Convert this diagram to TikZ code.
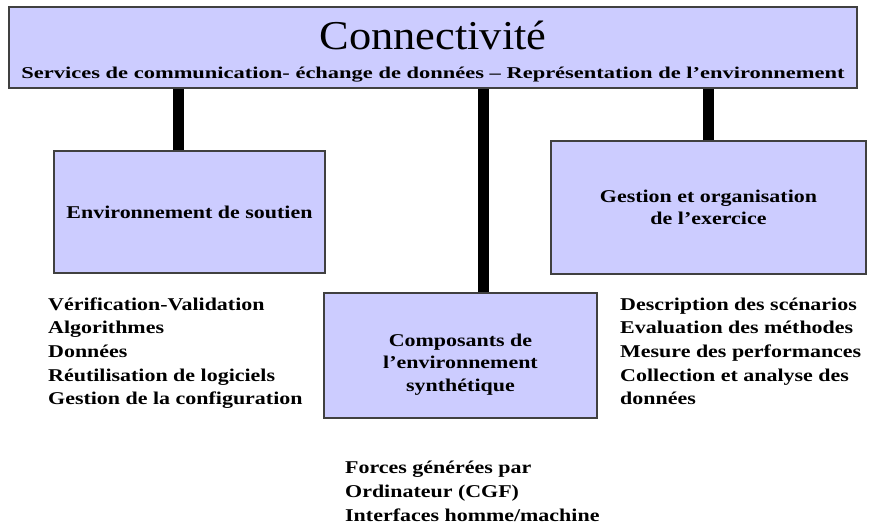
\documentclass[tikz,border=0pt]{standalone}
\usepackage{graphicx}
\usepackage{fontspec}
\setmainfont{Liberation Serif}
\newfontfamily\bfx{Liberation Serif Bold}[FakeStretch=1.22]
\definecolor{boxfill}{HTML}{CCCCFF}
\definecolor{boxline}{HTML}{404040}
\begin{document}
\begin{tikzpicture}[x=1pt,y=1pt,
  box/.style={draw=boxline, line width=1.2pt, fill=boxfill, inner sep=0pt, align=center,
              font=\bfx\fontsize{18}{22.5}\selectfont},
  boxtext/.style={inner sep=0pt, align=center, font=\bfx\fontsize{18}{22.5}\selectfont},
  bar/.style={line width=11pt, black},
  listtext/.style={inner sep=0pt, align=left, anchor=base west,
              font=\bfx\fontsize{18}{23.7}\selectfont}]
\useasboundingbox (0,0) rectangle (870,-527);
% top box
\node[box, minimum width=848pt, minimum height=81pt] (top) at (433,-47.5) {};
\node[inner sep=0pt, anchor=base] (title) at (433,-50)
  {\resizebox{227pt}{\height}{\fontsize{41}{41}\selectfont Connectivité}};
\node[inner sep=0pt, anchor=base] (sub) at (433,-78)
  {\resizebox{823pt}{\height}{\bfx\fontsize{16.5}{16.5}\selectfont Services de communication- échange de données – Représentation de l’environnement}};
% boxes
\node[box, minimum width=271pt, minimum height=122pt] (env) at (189.5,-212) {Environnement de soutien};
\node[box, minimum width=315pt, minimum height=133pt] (gest) at (708.5,-207.5) {Gestion et organisation\\de l’exercice};
\node[box, minimum width=273pt, minimum height=125pt] (comp) at (460.5,-355.5) {};
\node[boxtext] (comptext) at ([yshift=-9pt]comp.center) {Composants de\\l’environnement\\synthétique};
% bars
\draw[bar] ([xshift=-11pt]env.north) -- ([xshift=-11pt]env.north |- top.south);
\draw[bar] ([xshift=22.5pt]comp.north) -- ([xshift=22.5pt]comp.north |- top.south);
\draw[bar] (gest.north) -- (gest.north |- top.south);
% lists (base anchor = baseline of last line)
\node[listtext] (leftlist) at (48,-404.8) {Vérification-Validation\\Algorithmes\\Données\\Réutilisation de logiciels\\Gestion de la configuration};
\node[listtext] (rightlist) at (620,-404.8) {Description des scénarios\\Evaluation des méthodes\\Mesure des performances\\Collection et analyse des\\données};
\node[listtext, font=\bfx\fontsize{18}{24}\selectfont] (botlist) at (345,-521) {Forces générées par\\Ordinateur (CGF)\\Interfaces homme/machine};
\end{tikzpicture}
\end{document}
